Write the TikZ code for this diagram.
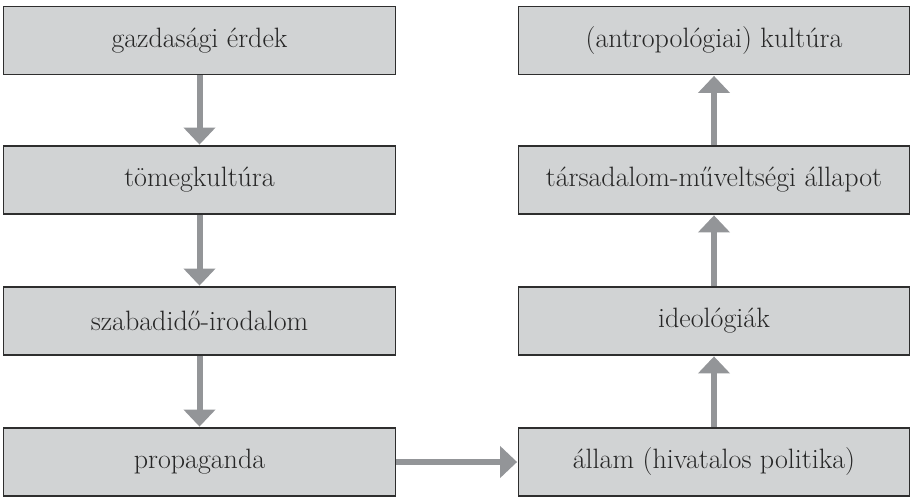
\documentclass[tikz,border=0pt]{standalone}
\usetikzlibrary{arrows.meta}
\definecolor{boxfill}{HTML}{D1D3D4}
\definecolor{boxline}{HTML}{2E2E2E}
\definecolor{arrowgrey}{HTML}{939598}
\begin{document}
\begin{tikzpicture}[x=1pt,y=-1pt,
  stage/.style={draw=boxline, line width=1.4pt, fill=boxfill, inner sep=0pt,
    minimum width=392pt, minimum height=68pt, text=black!85,
    font=\fontsize{28}{32}\selectfont},
  flow/.style={draw=arrowgrey, line width=6pt,
    -{Triangle[width=31pt,length=17pt]}, arrowgrey, shorten >=0.7pt}]
\useasboundingbox (0,0) rectangle (911,497);
% left column
\node[stage] (a1) at (199.5,40.5)  {gazdasági érdek};
\node[stage] (a2) at (199.5,180)   {tömegkultúra};
\node[stage] (a3) at (199.5,321)   {szabadidő-irodalom};
\node[stage] (a4) at (199.5,462)   {propaganda};
% right column
\node[stage, minimum width=391pt] (b1) at (714,40.5)  {(antropológiai) kultúra};
\node[stage, minimum width=391pt] (b2) at (714,180)   {társadalom-műveltségi állapot};
\node[stage, minimum width=391pt] (b3) at (714,321)   {ideológiák};
\node[stage, minimum width=391pt] (b4) at (714,462)   {állam (hivatalos politika)};
% connectors
\draw[flow] (a1.south) -- (a2.north);
\draw[flow] (a2.south) -- (a3.north);
\draw[flow] (a3.south) -- (a4.north);
\draw[flow] (a4.east) -- (b4.west);
\draw[flow] (b4.north) -- (b3.south);
\draw[flow] (b3.north) -- (b2.south);
\draw[flow] (b2.north) -- (b1.south);
\end{tikzpicture}
\end{document}
